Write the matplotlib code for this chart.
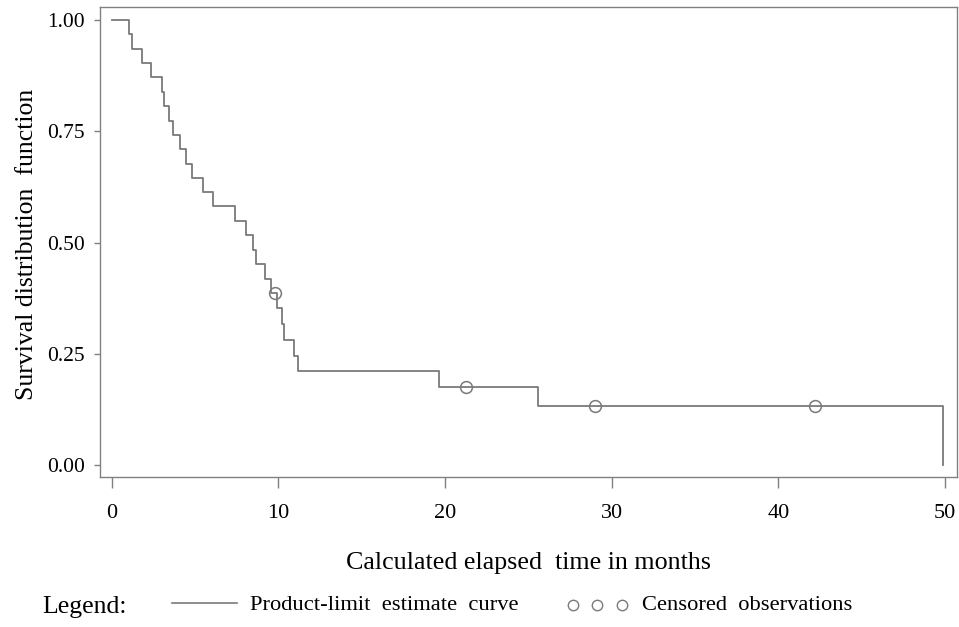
import matplotlib
matplotlib.use("Agg")
import matplotlib.pyplot as plt
from matplotlib.lines import Line2D

# Kaplan-Meier step data
event_times = [0, 1.06, 1.24, 1.84, 2.36, 3.02, 3.14, 3.44, 3.70, 4.10, 4.46, 4.80,
               5.46, 6.06, 7.40, 8.04, 8.49, 8.66, 9.20, 9.54, 9.93, 10.20, 10.35,
               10.95, 11.19, 19.63, 25.56, 49.86]
survival = [1.000, 0.968, 0.935, 0.903, 0.871, 0.839, 0.806, 0.774, 0.742, 0.710,
            0.677, 0.645, 0.613, 0.581, 0.548, 0.516, 0.484, 0.452, 0.419, 0.387,
            0.352, 0.317, 0.282, 0.246, 0.211, 0.176, 0.132, 0.000]
censor_times = [9.80, 21.25, 29.0, 42.2]
censor_surv = [0.387, 0.176, 0.132, 0.132]

x_ticks = [0, 10, 20, 30, 40, 50]
y_ticks = [0.0, 0.25, 0.5, 0.75, 1.0]
y_tick_labels = ["0.00", "0.25", "0.50", "0.75", "1.00"]

plt.rcParams['font.family'] = ['Liberation Serif', 'DejaVu Serif']

LINE = "#7a7a7a"
FRAME = "#808080"

fig = plt.figure(figsize=(9.59, 6.27), dpi=100)
ax = fig.add_axes([100/959, 1-476.7/627, (956.7-100)/959, (476.7-7)/627])

ax.step(event_times, survival, where='post', color=LINE, lw=1.3)
ax.plot(censor_times, censor_surv, linestyle='none', marker='o', markersize=8.5,
        markerfacecolor='none', markeredgecolor=LINE, markeredgewidth=1.1)

ax.set_xlim(-0.7, 50.7)
ax.set_ylim(-0.026, 1.029)
ax.set_xticks(x_ticks)
ax.set_xticklabels([str(v) for v in x_ticks])
ax.set_yticks(y_ticks)
ax.set_yticklabels(y_tick_labels)

for s in ax.spines.values():
    s.set_color(FRAME)
    s.set_linewidth(1.0)

ax.tick_params(axis='y', direction='out', length=4, width=1, color=FRAME,
               labelsize=15.5, pad=7)
ax.tick_params(axis='x', direction='out', length=8, width=1, color=FRAME,
               labelsize=16, pad=12)

fig.text(529/959, 1-563/627, "Calculated elapsed  time in months",
         ha='center', va='center', fontsize=18.7)
fig.text(27/959, 1-244/627, "Survival distribution  function",
         ha='center', va='center', rotation=90, fontsize=18.5)

# Legend row
fig.text(42/959, 1-607/627, "Legend:", ha='left', va='center', fontsize=18.5)
fig.add_artist(Line2D([172/959, 237/959], [1-603/627, 1-603/627],
                      color=LINE, lw=1.2, transform=fig.transFigure))
fig.text(250/959, 1-605/627, "Product-limit  estimate  curve", ha='left',
         va='center', fontsize=16.2)
for cx in (573, 597, 622):
    fig.add_artist(Line2D([cx/959], [1-605/627], marker='o', markersize=7.5,
                          markerfacecolor='none', markeredgecolor=LINE,
                          markeredgewidth=1.0, linestyle='none',
                          transform=fig.transFigure))
fig.text(642/959, 1-605/627, "Censored  observations", ha='left', va='center',
         fontsize=16.2)

fig.savefig("out.png", dpi=100)
